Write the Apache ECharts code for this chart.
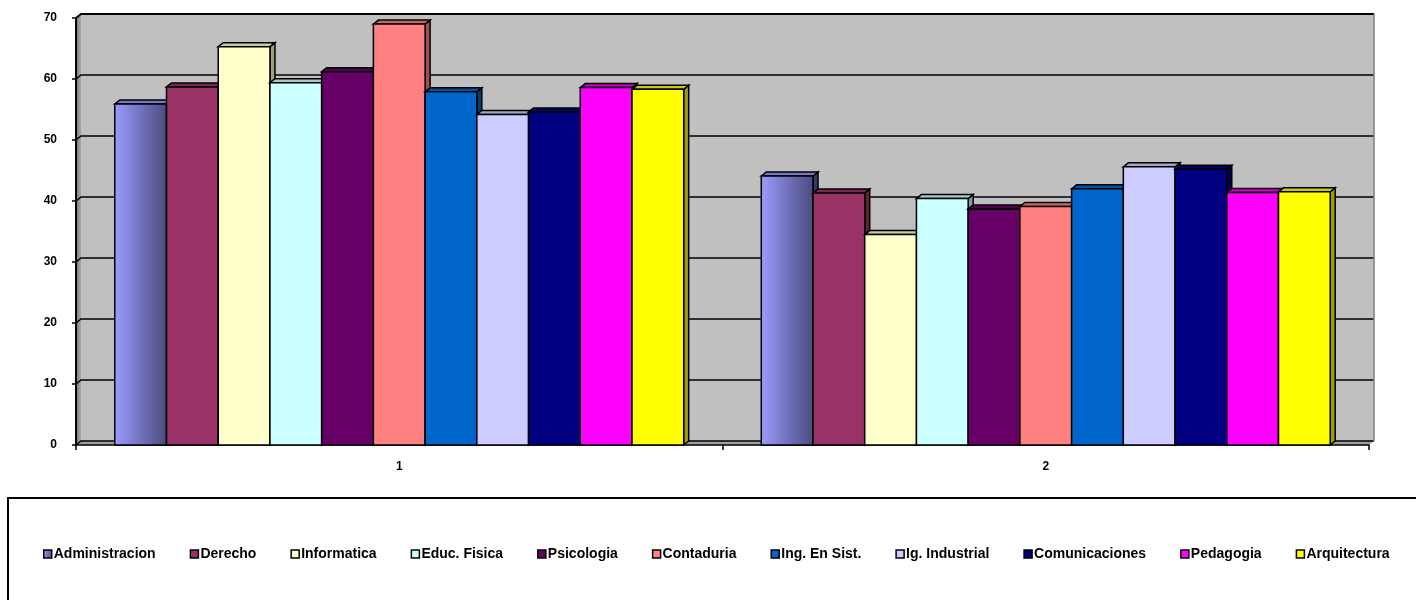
<!DOCTYPE html>
<html>
<head>
<meta charset="utf-8">
<title>Resultados por carrera</title>
<script src="https://cdn.jsdelivr.net/npm/echarts@6/dist/echarts.min.js"></script>
<style>
  html, body { margin: 0; padding: 0; background: #ffffff; }
  #chart { width: 1416px; height: 600px; }
</style>
</head>
<body>
<div id="chart"></div>
<script>
// Categories on the horizontal axis
const categories = ['1', '2'];

// One series per career
const departments = [
  'Administracion', 'Derecho', 'Informatica', 'Educ. Fisica', 'Psicologia',
  'Contaduria', 'Ing. En Sist.', 'Ig. Industrial', 'Comunicaciones', 'Pedagogia', 'Arquitectura'
];

// Values for category "1" and category "2", in the same order as departments
const group1 = [55.9, 58.7, 65.3, 59.4, 61.2, 69.0, 57.9, 54.2, 54.6, 58.6, 58.3];
const group2 = [44.1, 41.3, 34.5, 40.4, 38.7, 39.1, 42.0, 45.6, 45.2, 41.4, 41.5];

// Value axis range
const yMin = 0;
const yMax = 70;
const yStep = 10;

const palette = [
  null, '#993366', '#FFFFCC', '#CCFFFF', '#660066',
  '#FF8080', '#0066CC', '#CCCCFF', '#000080', '#FF00FF', '#FFFF00'
];

// Depth of the pseudo-3D extrusion (screen pixels)
const DX = 5, DY = -4;
const GROUP_FILL = 0.88;

function shade(hex, f) {
  const n = parseInt(hex.slice(1), 16);
  const r = Math.round(((n >> 16) & 255) * f);
  const g = Math.round(((n >> 8) & 255) * f);
  const b = Math.round((n & 255) * f);
  return 'rgb(' + r + ',' + g + ',' + b + ')';
}

const adminGradient = {
  type: 'linear', x: 0, y: 0, x2: 1, y2: 0,
  colorStops: [{ offset: 0, color: '#9C9CFF' }, { offset: 1, color: '#4A4A7E' }]
};

function faceColors(k) {
  if (k === 0) return { front: adminGradient, top: '#7777c8', side: '#3a3a66' };
  const c = palette[k];
  return { front: c, top: shade(c, 0.8), side: shade(c, 0.62) };
}

const stroke = { stroke: '#000', lineWidth: 1.5, lineJoin: 'miter' };

function barRenderer(k) {
  const col = faceColors(k);
  return function (params, api) {
    const cat = api.value(0);
    const val = api.value(1);
    const top = api.coord([cat, val]);
    const base = api.coord([cat, 0]);
    const band = api.size([1, 0])[0];
    const w = band * GROUP_FILL / departments.length;
    const x = top[0] - band * GROUP_FILL / 2 + k * w;
    const yt = top[1], yb = base[1];
    return {
      type: 'group',
      children: [
        {
          type: 'polygon',
          shape: { points: [[x + w, yt], [x + w + DX, yt + DY], [x + w + DX, yb + DY], [x + w, yb]] },
          style: Object.assign({ fill: col.side }, stroke)
        },
        {
          type: 'polygon',
          shape: { points: [[x, yt], [x + DX, yt + DY], [x + w + DX, yt + DY], [x + w, yt]] },
          style: Object.assign({ fill: col.top }, stroke)
        },
        {
          type: 'rect',
          shape: { x: x, y: yt, width: w, height: yb - yt },
          style: Object.assign({ fill: col.front }, stroke)
        }
      ]
    };
  };
}

// Back wall, side wall, floor and wall gridlines
function wallRenderer(params, api) {
  const cs = params.coordSys;
  const x0 = cs.x, x1 = cs.x + cs.width;
  const yTop = api.coord([0, yMax])[1];
  const yBot = api.coord([0, yMin])[1];
  const children = [];
  children.push({
    type: 'rect',
    shape: { x: x0 + DX, y: yTop + DY, width: x1 - x0, height: yBot - yTop },
    style: { fill: '#C0C0C0' }
  });
  children.push({
    type: 'polygon',
    shape: { points: [[x0, yTop], [x0 + DX, yTop + DY], [x0 + DX, yBot + DY], [x0, yBot]] },
    style: {
      fill: { type: 'linear', x: 0, y: 0, x2: 1, y2: 0,
        colorStops: [{ offset: 0, color: '#7a7a7a' }, { offset: 1, color: '#a8a8a8' }] }
    }
  });
  children.push({
    type: 'polygon',
    shape: { points: [[x0, yBot], [x0 + DX, yBot + DY], [x1 + DX, yBot + DY], [x1, yBot]] },
    style: { fill: '#a0a0a0' }
  });
  for (let v = yMin; v <= yMax; v += yStep) {
    const y = api.coord([0, v])[1];
    const isTop = v === yMax;
    children.push({
      type: 'polyline',
      shape: { points: [[x0, y], [x0 + DX, y + DY], [x1 + DX, y + DY]] },
      style: { stroke: '#000', lineWidth: isTop ? 2 : 1.5, fill: null }
    });
  }
  children.push({
    type: 'line',
    shape: { x1: x1 + DX, y1: yTop + DY, x2: x1 + DX, y2: yBot + DY },
    style: { stroke: '#808080', lineWidth: 1.5 }
  });
  return { type: 'group', children: children };
}

const series = [{
  name: '__wall',
  type: 'custom',
  z: -1,
  silent: true,
  clip: false,
  renderItem: wallRenderer,
  data: [[0, 0]],
  encode: { x: 0, y: 1 }
}];

departments.forEach(function (name, k) {
  const col = faceColors(k);
  series.push({
    name: name,
    type: 'custom',
    z: 2 + k,
    clip: false,
    renderItem: barRenderer(k),
    itemStyle: { color: col.front },
    encode: { x: 0, y: 1 },
    data: [[0, group1[k]], [1, group2[k]]]
  });
});

const chart = echarts.init(document.getElementById('chart'), null, { renderer: 'canvas' });

chart.setOption({
  animation: false,
  backgroundColor: '#ffffff',
  textStyle: { fontFamily: 'Liberation Sans, Arial, sans-serif' },
  grid: { left: 76, right: 47, top: 18, bottom: 155, containLabel: false },
  xAxis: {
    type: 'category',
    data: categories,
    axisLine: { show: true, lineStyle: { color: '#000', width: 1.5 } },
    axisTick: { show: true, length: 5, lineStyle: { color: '#000', width: 1.5 } },
    axisLabel: { color: '#000', fontSize: 12, fontWeight: 'bold', margin: 16 },
    splitLine: { show: false }
  },
  yAxis: {
    type: 'value',
    min: yMin,
    max: yMax,
    interval: yStep,
    axisLine: { show: true, lineStyle: { color: '#000', width: 2 } },
    axisTick: { show: true, length: 4, lineStyle: { color: '#000', width: 1.5 } },
    axisLabel: { color: '#000', fontSize: 12, fontWeight: 'bold', margin: 19 },
    splitLine: { show: false }
  },
  legend: {
    data: departments,
    left: 38,
    top: 542,
    icon: 'rect',
    itemWidth: 8,
    itemHeight: 8,
    itemGap: 34,
    itemStyle: { borderColor: '#000', borderWidth: 1.5 },
    textStyle: { color: '#000', fontSize: 14, fontWeight: 'bold', padding: [0, 0, 0, -3] }
  },
  graphic: [{
    type: 'rect',
    shape: { x: 8, y: 498, width: 1440, height: 140 },
    style: { fill: 'none', stroke: '#000', lineWidth: 2 },
    silent: true
  }],
  series: series
});
</script>
</body>
</html>
